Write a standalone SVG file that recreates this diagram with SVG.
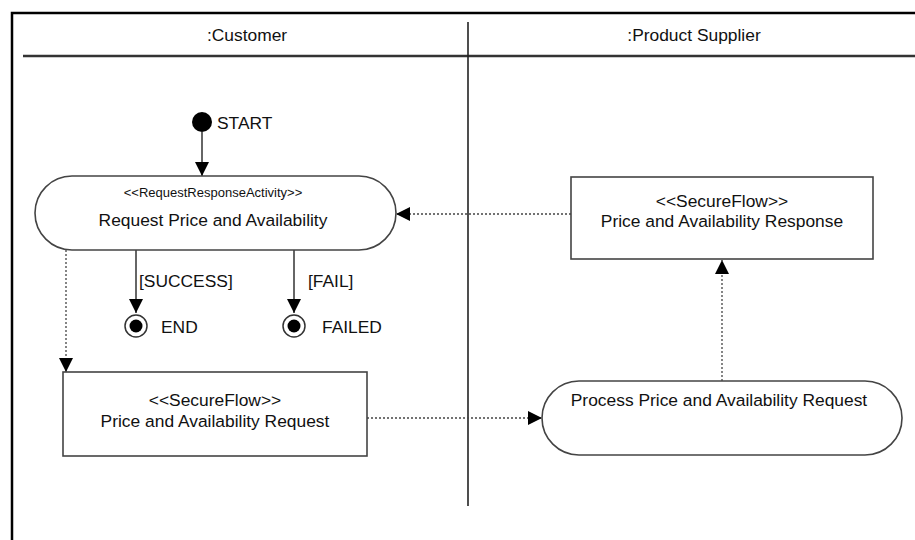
<svg xmlns="http://www.w3.org/2000/svg" width="915" height="540" viewBox="0 0 915 540">
<style>
text{font-family:"Liberation Sans",Arial,sans-serif;fill:#111;}
.lbl{font-size:17.4px;}
.small{font-size:13px;}
.node{fill:#fff;stroke:#444;stroke-width:1.6;}
.solid{fill:none;stroke:#333;stroke-width:1.5;}
.dot{fill:none;stroke:#444;stroke-width:1.3;stroke-dasharray:2 2;}
</style>
<defs>
<marker id="ah" markerUnits="userSpaceOnUse" markerWidth="14" markerHeight="14" viewBox="0 0 12 12" refX="12" refY="6" orient="auto">
<path d="M0,0 L12,6 L0,12 Z" fill="#000"/>
</marker>
</defs>
<rect width="915" height="540" fill="#fff"/>
<g id="frame">
<path d="M12,540 V13 H915" fill="none" stroke="#000" stroke-width="2.5"/>
<line x1="23" y1="56" x2="915" y2="56" stroke="#333" stroke-width="2.6"/>
<line x1="468" y1="22" x2="468" y2="506" stroke="#222" stroke-width="1.6"/>
<text class="lbl" x="247" y="41" text-anchor="middle">:Customer</text>
<text class="lbl" x="694" y="41" text-anchor="middle">:Product Supplier</text>
</g>
<g id="connectors">
<line class="solid" x1="202" y1="132" x2="202" y2="176" marker-end="url(#ah)"/>
<line class="solid" x1="136" y1="250" x2="136" y2="313" marker-end="url(#ah)"/>
<line class="solid" x1="294" y1="250" x2="294" y2="313" marker-end="url(#ah)"/>
<line class="dot" x1="66" y1="250" x2="66" y2="372" marker-end="url(#ah)"/>
<line class="dot" x1="367" y1="418" x2="542" y2="418" marker-end="url(#ah)"/>
<line class="dot" x1="722" y1="381" x2="722" y2="260" marker-end="url(#ah)"/>
<line class="dot" x1="571" y1="214" x2="396" y2="214" marker-end="url(#ah)"/>
<text class="lbl" x="139" y="287">[SUCCESS]</text>
<text class="lbl" x="308" y="287">[FAIL]</text>
</g>
<g id="start">
<circle cx="202" cy="122" r="10" fill="#000"/>
<text class="lbl" x="217" y="129">START</text>
</g>
<g id="request-activity">
<rect class="node" x="35" y="176" width="361" height="74" rx="37" ry="37"/>
<text class="small" x="213" y="197" text-anchor="middle">&lt;&lt;RequestResponseActivity&gt;&gt;</text>
<text class="lbl" x="213" y="226" text-anchor="middle">Request Price and Availability</text>
</g>
<g id="end">
<circle cx="136" cy="326" r="11" fill="#fff" stroke="#333" stroke-width="1.5"/>
<circle cx="136" cy="326" r="6.5" fill="#000"/>
<text class="lbl" x="161" y="333">END</text>
</g>
<g id="failed">
<circle cx="294" cy="326" r="11" fill="#fff" stroke="#333" stroke-width="1.5"/>
<circle cx="294" cy="326" r="6.5" fill="#000"/>
<text class="lbl" x="322" y="333">FAILED</text>
</g>
<g id="request-flow">
<rect class="node" x="63" y="372" width="304" height="84"/>
<text class="lbl" x="215" y="406" text-anchor="middle">&lt;&lt;SecureFlow&gt;&gt;</text>
<text class="lbl" x="215" y="427" text-anchor="middle">Price and Availability Request</text>
</g>
<g id="process-request">
<rect class="node" x="542" y="381" width="360" height="74" rx="37" ry="37"/>
<text class="lbl" x="719" y="406" text-anchor="middle">Process Price and Availability Request</text>
</g>
<g id="response-flow">
<rect class="node" x="571" y="177" width="302" height="82"/>
<text class="lbl" x="722" y="207" text-anchor="middle">&lt;&lt;SecureFlow&gt;&gt;</text>
<text class="lbl" x="722" y="227" text-anchor="middle">Price and Availability Response</text>
</g>
</svg>
